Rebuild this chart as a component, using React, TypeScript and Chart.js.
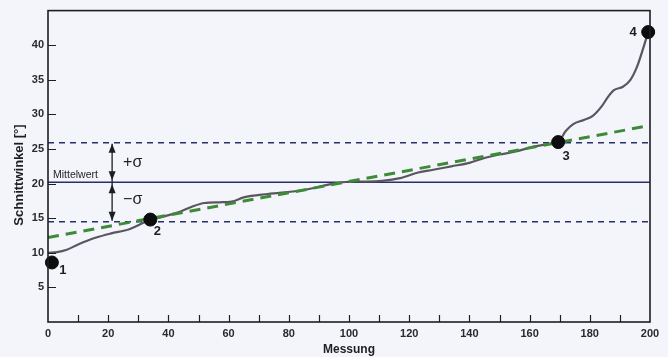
import { useEffect, useRef } from 'react';
import { Chart, registerables } from 'chart.js';

Chart.register(...registerables);

// Measurement curve (sorted cutting angles)
const curveX = [0, 3, 6, 10, 16, 21, 27, 32, 34, 38, 43, 48, 52, 57, 61, 65, 73, 84, 95, 101, 106, 111, 117, 123, 128, 134, 140, 145, 150, 155, 161, 166, 169.5, 172, 174.5, 178, 181, 184, 186, 188, 191, 193.5, 195.7, 197.7, 199.4];
const curveY = [10.0, 10.1, 10.4, 11.2, 12.2, 12.8, 13.4, 14.4, 14.8, 15.2, 15.8, 16.7, 17.2, 17.3, 17.4, 18.0, 18.5, 19.0, 20.0, 20.3, 20.3, 20.4, 20.8, 21.6, 22.0, 22.5, 23.0, 23.7, 24.2, 24.6, 25.3, 25.7, 26.0, 27.6, 28.6, 29.2, 29.8, 31.2, 32.5, 33.5, 34.0, 35.0, 36.9, 39.5, 41.9];

// Linear trend (green dashed)
const trendX = [0, 200];
const trendY = [12.2, 28.4];

// Marked points
const markerX = [1.3, 34, 169.5, 199.4];
const markerY = [8.6, 14.8, 26.0, 41.9];
const markerLabels = ['1', '2', '3', '4'];

// Statistics
const meanValue = 20.2;
const sigmaValue = 5.7;
const sigmaArrowX = 21.3;
const meanLabel = 'Mittelwert';
const plusSigmaLabel = '+σ';
const minusSigmaLabel = '−σ';

// Axes
const xMin = 0;
const xMax = 200;
const yMin = 0;
const yMax = 45;
const xLabelStep = 20;
const xMinorStep = 10;
const yStep = 5;
const xTitle = 'Messung';
const yTitle = 'Schnittwinkel [°]';

const INK = '#1e1e22';
const NAVY = '#28306a';
const FONT = '"Liberation Sans", Arial, sans-serif';

const decorPlugin = {
  id: 'decor',
  beforeDraw(chart: any) {
    const { ctx } = chart;
    ctx.save();
    ctx.fillStyle = '#f3f5fb';
    ctx.fillRect(0, 0, chart.width, chart.height);
    ctx.restore();
  },
  afterDraw(chart: any) {
    const { ctx, chartArea: a, scales } = chart;
    const xs = scales.x;
    const ys = scales.y;
    ctx.save();
    // box
    ctx.strokeStyle = INK;
    ctx.lineWidth = 1.6;
    ctx.strokeRect(a.left, a.top, a.right - a.left, a.bottom - a.top);
    // inward ticks
    ctx.lineWidth = 1.2;
    ctx.beginPath();
    for (let v = xMin + xMinorStep; v < xMax; v += xMinorStep) {
      const px = Math.round(xs.getPixelForValue(v)) + 0.5;
      ctx.moveTo(px, a.bottom);
      ctx.lineTo(px, a.bottom - 7);
    }
    for (let v = yMin + yStep; v < yMax; v += yStep) {
      const py = Math.round(ys.getPixelForValue(v)) + 0.5;
      ctx.moveTo(a.left, py);
      ctx.lineTo(a.left + 8, py);
    }
    ctx.stroke();

    // sigma arrows
    const ax = xs.getPixelForValue(sigmaArrowX);
    const yUp = ys.getPixelForValue(meanValue + sigmaValue);
    const yMean = ys.getPixelForValue(meanValue);
    const yLo = ys.getPixelForValue(meanValue - sigmaValue);
    ctx.strokeStyle = INK;
    ctx.fillStyle = INK;
    ctx.lineWidth = 1.3;
    ctx.beginPath();
    ctx.moveTo(ax, yUp + 1);
    ctx.lineTo(ax, yLo - 1);
    ctx.stroke();
    const head = (tipY: number, dir: number) => {
      ctx.beginPath();
      ctx.moveTo(ax, tipY);
      ctx.lineTo(ax - 3.5, tipY + dir * 9);
      ctx.lineTo(ax + 3.5, tipY + dir * 9);
      ctx.closePath();
      ctx.fill();
    };
    head(yUp + 1, 1);
    head(yMean - 2, -1);
    head(yMean + 2, 1);
    head(yLo - 1, -1);

    ctx.font = `16px ${FONT}`;
    ctx.textAlign = 'left';
    ctx.textBaseline = 'middle';
    ctx.fillText(plusSigmaLabel, ax + 11, (yUp + yMean) / 2);
    ctx.fillText(minusSigmaLabel, ax + 11, (yMean + yLo) / 2 - 2);

    // mean label
    ctx.font = `10.5px ${FONT}`;
    ctx.textBaseline = 'alphabetic';
    ctx.fillText(meanLabel, a.left + 5, yMean - 4);

    // marker labels
    const offs = [[11, 8], [7, 12], [8, 14], [-15, 0]];
    ctx.font = `bold 13px ${FONT}`;
    ctx.textAlign = 'center';
    ctx.textBaseline = 'middle';
    markerLabels.forEach((lab, i) => {
      const px = xs.getPixelForValue(markerX[i]);
      const py = ys.getPixelForValue(markerY[i]);
      ctx.fillText(lab, px + offs[i][0], py + offs[i][1]);
    });

    // axis titles
    ctx.font = `bold 12px ${FONT}`;
    ctx.fillText(xTitle, (a.left + a.right) / 2, 350);
    ctx.save();
    ctx.translate(19, 175);
    ctx.rotate(-Math.PI / 2);
    ctx.font = `bold 13px ${FONT}`;
    ctx.fillText(yTitle, 0, 0);
    ctx.restore();
    ctx.restore();
  },
};

export default function App() {
  const ref = useRef<HTMLCanvasElement | null>(null);
  useEffect(() => {
    if (!ref.current) return;
    const pts = (xa: number[], ya: number[]) => xa.map((x, i) => ({ x, y: ya[i] }));
    const chart = new Chart(ref.current, {
      type: 'scatter',
      data: {
        datasets: [
          {
            data: pts(markerX, markerY),
            showLine: false,
            pointRadius: 6.5,
            pointBackgroundColor: '#0d0d0f',
            pointBorderColor: '#0d0d0f',
            clip: false,
          } as any,
          {
            data: pts(trendX, trendY),
            showLine: true,
            borderColor: '#3d8a38',
            borderWidth: 3,
            borderDash: [11, 7],
            pointRadius: 0,
          },
          {
            data: pts(curveX, curveY),
            showLine: true,
            borderColor: '#5a5660',
            borderWidth: 2.2,
            cubicInterpolationMode: 'monotone',
            pointRadius: 0,
          },
          {
            data: pts([xMin, xMax], [meanValue, meanValue]),
            showLine: true,
            borderColor: NAVY,
            borderWidth: 1.5,
            pointRadius: 0,
          },
          {
            data: pts([xMin, xMax], [meanValue + sigmaValue, meanValue + sigmaValue]),
            showLine: true,
            borderColor: NAVY,
            borderWidth: 1.5,
            borderDash: [6, 5],
            pointRadius: 0,
          },
          {
            data: pts([xMin, xMax], [meanValue - sigmaValue, meanValue - sigmaValue]),
            showLine: true,
            borderColor: NAVY,
            borderWidth: 1.5,
            borderDash: [6, 5],
            pointRadius: 0,
          },
        ],
      },
      options: {
        animation: false,
        responsive: false,
        devicePixelRatio: 1,
        layout: { padding: { left: 0, right: 18, top: 10, bottom: 0 } },
        plugins: { legend: { display: false }, tooltip: { enabled: false } },
        scales: {
          x: {
            type: 'linear',
            min: xMin,
            max: xMax,
            grid: { display: false, drawTicks: false },
            border: { display: false },
            ticks: {
              stepSize: xLabelStep,
              padding: 5,
              color: '#2a2a2e',
              font: { family: FONT, size: 11, weight: 'bold' },
              maxRotation: 0,
            },
            afterFit: (s: any) => { s.height = 35; },
          },
          y: {
            type: 'linear',
            min: yMin,
            max: yMax,
            grid: { display: false, drawTicks: false },
            border: { display: false },
            ticks: {
              stepSize: yStep,
              padding: 4,
              color: '#2a2a2e',
              font: { family: FONT, size: 11, weight: 'bold' },
              callback: (v: any) => (v === yMin || v === yMax ? '' : String(v)),
            },
            afterFit: (s: any) => { s.width = 48; },
          },
        },
      } as any,
      plugins: [decorPlugin],
    });
    return () => chart.destroy();
  }, []);
  return (
    <div style={{ position: 'fixed', left: 0, top: 0, width: 668, height: 357 }}>
      <canvas ref={ref} width={668} height={357} />
    </div>
  );
}
